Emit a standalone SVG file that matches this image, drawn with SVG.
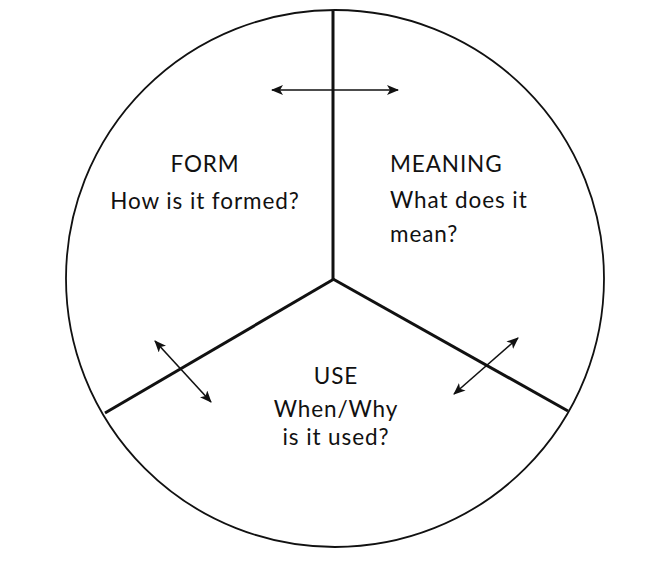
<svg xmlns="http://www.w3.org/2000/svg" width="672" height="579" viewBox="0 0 672 579">
<style>
.t{font-family:Lato,"Open Sans","Liberation Sans",sans-serif;font-size:22.5px;letter-spacing:0.9px;fill:#111}
.m{text-anchor:middle}
.arr{stroke:#111;stroke-width:1.6;fill:none;marker-start:url(#ah);marker-end:url(#ah)}
</style>
<defs>
<marker id="ah" viewBox="0 0 12 10" refX="11" refY="5" markerWidth="12" markerHeight="10" markerUnits="userSpaceOnUse" orient="auto-start-reverse">
<path d="M0,0 L12,5 L0,10 L3,5 Z" fill="#111"/>
</marker>
</defs>
<rect width="672" height="579" fill="#fff"/>
<g id="circle">
<ellipse cx="335" cy="278.5" rx="269" ry="268.5" fill="none" stroke="#111" stroke-width="1.8"/>
</g>
<g id="dividers" stroke="#111" stroke-width="3" fill="none" stroke-linecap="butt">
<line x1="333" y1="10" x2="333" y2="280"/>
<line x1="334" y1="279" x2="105" y2="413"/>
<line x1="333" y1="279" x2="568" y2="411"/>
</g>
<g id="connectors">
<line class="arr" x1="272" y1="90" x2="398" y2="90"/>
<line class="arr" x1="155" y1="341" x2="211" y2="402"/>
<line class="arr" x1="518" y1="338" x2="454" y2="394"/>
</g>
<g id="form">
<text class="t m" x="205" y="172">FORM</text>
<text class="t m" x="205" y="209">How is it formed?</text>
</g>
<g id="meaning">
<text class="t" x="390" y="172">MEANING</text>
<text class="t" x="390" y="208">What does it</text>
<text class="t" x="390" y="242">mean?</text>
</g>
<g id="use">
<text class="t m" x="336" y="384">USE</text>
<text class="t m" x="336" y="417">When/Why</text>
<text class="t m" x="336" y="445">is it used?</text>
</g>
</svg>
